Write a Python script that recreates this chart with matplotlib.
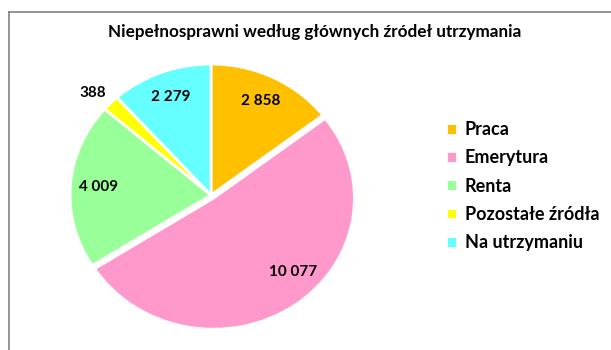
import matplotlib
matplotlib.use("Agg")
import matplotlib.pyplot as plt
from matplotlib.lines import Line2D

# dane: niepełnosprawni wg głównych źródeł utrzymania
kategorie = ["Praca", "Emerytura", "Renta", "Pozostałe źródła", "Na utrzymaniu"]
wartosci = [2858, 10077, 4009, 388, 2279]
kolory = ["#FFC000", "#FF99CC", "#99FF99", "#FFFF00", "#66FFFF"]
tytul = "Niepełnosprawni według głównych źródeł utrzymania"

plt.rcParams['font.family'] = ['Lato', 'DejaVu Sans']

W, H = 611, 350
fig = plt.figure(figsize=(W / 100, H / 100), dpi=100)

# oś koła: środek (211, 195) px, promienie 141 x 131 px
cx, cy, rx, ry = 211, 195, 141, 131
lim = 1.15
ax = fig.add_axes([(cx - rx * lim) / W, (H - cy - ry * lim) / H,
                   2 * rx * lim / W, 2 * ry * lim / H])

etykiety = [f"{v:,}".replace(",", " ") for v in wartosci]
wedges, texts = ax.pie(wartosci, colors=kolory, startangle=90, counterclock=False,
                       explode=[0, 0.03, 0, 0, 0], labels=etykiety, labeldistance=0.8,
                       wedgeprops=dict(edgecolor="white", linewidth=2),
                       textprops=dict(fontsize=11, fontweight="bold", color="black",
                                      ha="center", va="center"))
texts[1].set_position((0.58, -0.59))
texts[3].set_position((-0.84, 0.78))
for t in texts:
    t.set_ha("center")
ax.set_aspect("auto")
ax.set_xlim(-lim, lim)
ax.set_ylim(-lim, lim)
ax.axis("off")

fig.text(315 / W, 1 - 32 / H, tytul, ha="center", va="center",
         fontsize=12.3, fontweight="bold")

# legenda
ax.legend(wedges, kategorie, loc="upper left", bbox_to_anchor=(430 / W, 1 - 105 / H),
          bbox_transform=fig.transFigure, frameon=False, handlelength=0.62,
          handleheight=0.62, handletextpad=0.4, labelspacing=0.62,
          prop=dict(size=13, weight="bold"))

# ramka obszaru wykresu
fig.add_artist(Line2D([9 / W, 9 / W], [0, 1 - 12 / H], color="#808080", lw=1.2))
fig.add_artist(Line2D([9 / W, 1], [1 - 12 / H, 1 - 12 / H], color="#808080", lw=1.2))

fig.savefig("out.png", dpi=100)
